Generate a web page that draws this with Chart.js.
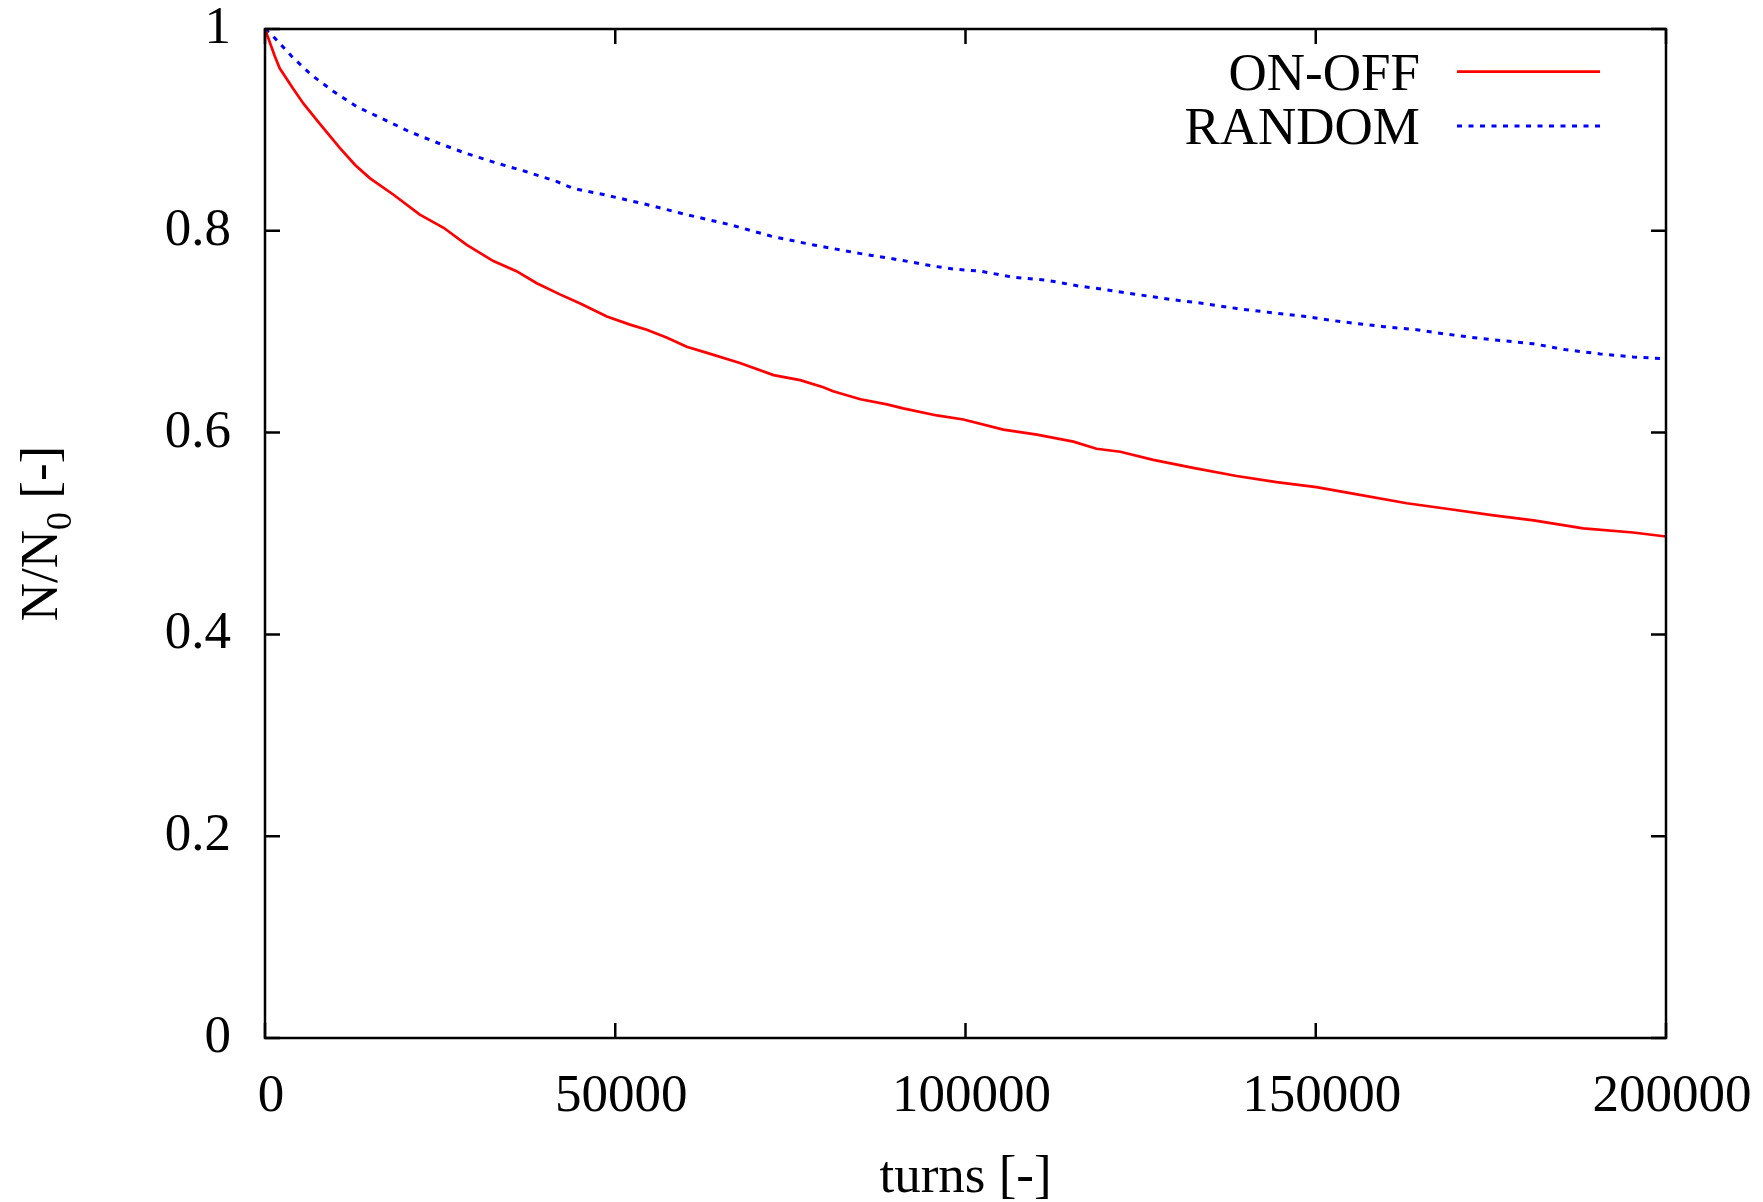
<!DOCTYPE html>
<html>
<head>
<meta charset="utf-8">
<script src="https://cdn.jsdelivr.net/npm/chart.js@4/dist/chart.umd.min.js"></script>
<style>
  html, body { margin: 0; padding: 0; background: #ffffff; }
  #wrap { width: 1763px; height: 1202px; }
</style>
</head>
<body>
<div id="wrap"><canvas id="c" width="1763" height="1202"></canvas></div>
<script>
// Beam survival N/N0 versus number of turns for two excitation schemes
const onOffTurns = [0, 1400, 2100, 4000, 5500, 7600, 10700, 12900, 15000, 18300, 22100, 25500, 28800, 32600,
  35900, 38800, 42100, 45000, 48800, 52100, 54500, 57400, 60200, 63100, 67800, 72600, 76400, 79700, 81100,
  85000, 88800, 91100, 95900, 99700, 105400, 110200, 115400, 118700, 122100, 126800, 132500, 138700, 144400,
  150100, 154900, 163000, 169200, 175400, 181100, 188200, 195300, 200000];
const onOffValues = [1.000, 0.973, 0.961, 0.941, 0.926, 0.908, 0.882, 0.865, 0.852, 0.836, 0.816, 0.803, 0.786,
  0.770, 0.760, 0.748, 0.737, 0.728, 0.715, 0.707, 0.702, 0.694, 0.685, 0.679, 0.669, 0.657, 0.652, 0.645,
  0.641, 0.633, 0.628, 0.624, 0.617, 0.613, 0.603, 0.598, 0.591, 0.584, 0.581, 0.573, 0.565, 0.557, 0.551,
  0.546, 0.540, 0.530, 0.524, 0.518, 0.513, 0.505, 0.501, 0.497];

const randomTurns = [0, 1000, 3800, 6700, 9800, 13100, 17100, 20700, 24700, 28600, 33100, 37100, 41600, 44000,
  48300, 54500, 60200, 66400, 72600, 78300, 84500, 90700, 95400, 98300, 102100, 106800, 111600, 116400, 119700,
  124400, 129200, 134000, 138700, 143500, 148700, 153500, 159700, 164400, 168200, 173900, 181100, 185800,
  190600, 195300, 200000];
const randomValues = [1.000, 0.994, 0.973, 0.954, 0.938, 0.923, 0.910, 0.898, 0.887, 0.877, 0.867, 0.859,
  0.849, 0.842, 0.836, 0.826, 0.816, 0.806, 0.794, 0.786, 0.778, 0.771, 0.765, 0.762, 0.760, 0.754, 0.751,
  0.745, 0.742, 0.737, 0.732, 0.728, 0.723, 0.719, 0.715, 0.710, 0.705, 0.702, 0.698, 0.693, 0.688, 0.682,
  0.678, 0.675, 0.673];

const seriesNames = ['ON-OFF', 'RANDOM'];
const xTickValues = [0, 50000, 100000, 150000, 200000];
const yTickValues = [0, 0.2, 0.4, 0.6, 0.8, 1];
const xTitle = 'turns [-]';

const FONT = '"Liberation Serif", "Times New Roman", serif';
const FS = 53;

const toPoints = (xs, ys) => xs.map((x, i) => ({ x: x, y: ys[i] }));

// Frame, mirrored inward ticks, axis titles and legend, drawn the gnuplot way
const framePlugin = {
  id: 'frame',
  afterDraw(chart) {
    const ctx = chart.ctx;
    const a = chart.chartArea;
    const xs = chart.scales.x, ys = chart.scales.y;
    const tick = 15;
    ctx.save();
    ctx.strokeStyle = '#000000';
    ctx.lineWidth = 2.5;
    ctx.beginPath();
    xTickValues.forEach(v => {
      const px = xs.getPixelForValue(v);
      ctx.moveTo(px, a.bottom); ctx.lineTo(px, a.bottom - tick);
      ctx.moveTo(px, a.top); ctx.lineTo(px, a.top + tick);
    });
    yTickValues.forEach(v => {
      const py = ys.getPixelForValue(v);
      ctx.moveTo(a.left, py); ctx.lineTo(a.left + tick, py);
      ctx.moveTo(a.right, py); ctx.lineTo(a.right - tick, py);
    });
    ctx.stroke();
    ctx.strokeRect(a.left, a.top, a.right - a.left, a.bottom - a.top);

    // x axis title
    ctx.fillStyle = '#000000';
    ctx.font = FS + 'px ' + FONT;
    ctx.textAlign = 'center';
    ctx.textBaseline = 'middle';
    ctx.fillText(xTitle, (a.left + a.right) / 2, 1178);

    // y axis title with subscript
    ctx.save();
    ctx.translate(57, (a.top + a.bottom) / 2);
    ctx.rotate(-Math.PI / 2);
    ctx.textBaseline = 'alphabetic';
    ctx.textAlign = 'left';
    const p1 = 'N/N', p2 = '0', p3 = ' [-]';
    ctx.font = FS + 'px ' + FONT;
    const w1 = ctx.measureText(p1).width, w3 = ctx.measureText(p3).width;
    ctx.font = '36px ' + FONT;
    const w2 = ctx.measureText(p2).width;
    const total = w1 + w2 + w3;
    let cx = -total / 2;
    ctx.font = FS + 'px ' + FONT;
    ctx.fillText(p1, cx, 0); cx += w1;
    ctx.font = '36px ' + FONT;
    ctx.fillText(p2, cx, 14); cx += w2;
    ctx.font = FS + 'px ' + FONT;
    ctx.fillText(p3, cx, 0);
    ctx.restore();

    // legend
    ctx.font = FS + 'px ' + FONT;
    ctx.textAlign = 'right';
    ctx.textBaseline = 'alphabetic';
    const rows = [90, 143.5];
    const lineY = [71.7, 126];
    chart.data.datasets.forEach((ds, i) => {
      ctx.fillStyle = '#000000';
      ctx.fillText(ds.label, 1420, rows[i]);
      ctx.strokeStyle = ds.borderColor;
      ctx.lineWidth = ds.borderWidth;
      ctx.setLineDash(ds.borderDash || []);
      ctx.beginPath();
      ctx.moveTo(1457, lineY[i]);
      ctx.lineTo(1600, lineY[i]);
      ctx.stroke();
      ctx.setLineDash([]);
    });
    ctx.restore();
  }
};

new Chart(document.getElementById('c'), {
  type: 'line',
  data: {
    datasets: [
      {
        label: seriesNames[0],
        data: toPoints(onOffTurns, onOffValues),
        borderColor: '#ff0000',
        borderWidth: 2.7,
        pointRadius: 0,
        tension: 0,
        fill: false
      },
      {
        label: seriesNames[1],
        data: toPoints(randomTurns, randomValues),
        borderColor: '#0000ff',
        borderWidth: 3,
        borderDash: [5, 6.5],
        pointRadius: 0,
        tension: 0,
        fill: false
      }
    ]
  },
  options: {
    responsive: false,
    animation: false,
    events: [],
    layout: { padding: { top: 29, right: 97, left: 0, bottom: 0 } },
    plugins: { legend: { display: false }, tooltip: { enabled: false }, title: { display: false } },
    scales: {
      x: {
        type: 'linear',
        min: 0, max: 200000,
        afterFit(s) { s.height = 164; s.paddingLeft = 0; s.paddingRight = 0; },
        afterBuildTicks(s) { s.ticks = xTickValues.map(v => ({ value: v })); },
        grid: { display: false, drawTicks: false },
        border: { display: false },
        ticks: {
          color: '#000000',
          font: { family: FONT, size: FS },
          padding: 27,
          labelOffset: 6,
          maxRotation: 0,
          callback: v => String(v)
        }
      },
      y: {
        type: 'linear',
        min: 0, max: 1,
        afterFit(s) { s.width = 265; s.paddingTop = 0; s.paddingBottom = 0; },
        afterBuildTicks(s) { s.ticks = yTickValues.map(v => ({ value: v })); },
        grid: { display: false, drawTicks: false },
        border: { display: false },
        ticks: {
          color: '#000000',
          font: { family: FONT, size: FS },
          padding: 34,
          callback: v => String(Math.round(v * 10) / 10)
        }
      }
    }
  },
  plugins: [framePlugin]
});
</script>
</body>
</html>
